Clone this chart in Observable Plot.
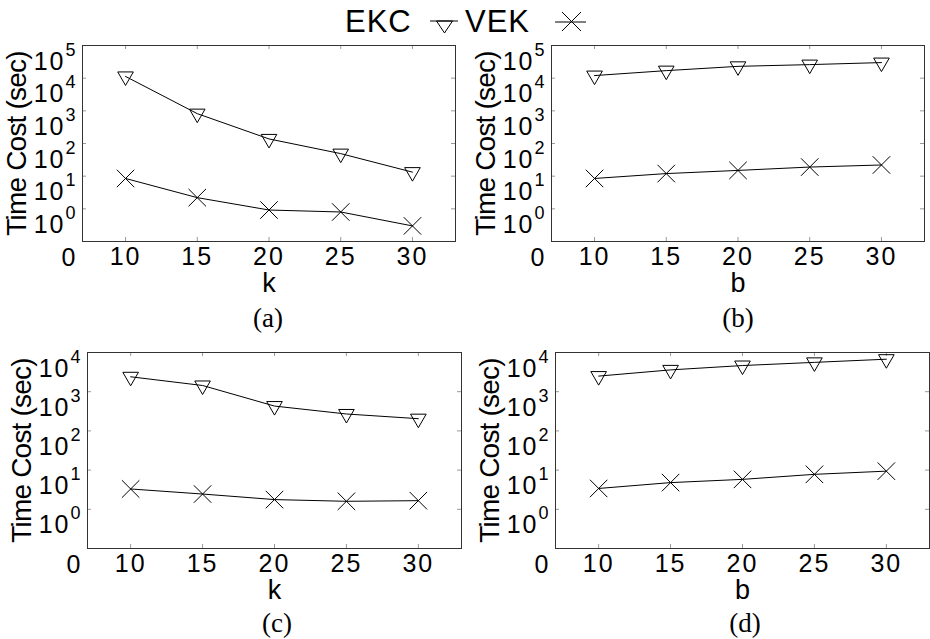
<!DOCTYPE html>
<html><head><meta charset="utf-8">
<script src="https://cdn.jsdelivr.net/npm/d3@7"></script>
<script src="https://cdn.jsdelivr.net/npm/@observablehq/plot@0.6"></script>
<style>
body{margin:0;background:#fff;}
#root{position:relative;width:930px;height:639px;overflow:hidden;background:#fff;font-family:"Liberation Sans",Arial,sans-serif;}
.panel{position:absolute;}
.panel g[aria-label="x-axis tick label"] text,
.panel g[aria-label="y-axis tick label"] text{letter-spacing:2px;}
.panel g[aria-label="y-axis label"] text{letter-spacing:-0.8px;}
.cap{position:absolute;font-family:"Liberation Serif","Times New Roman",serif;font-size:27px;line-height:1;transform:translate(-50%,-50%);white-space:nowrap;color:#000;}
#legend{position:absolute;left:0;top:0;}
</style></head><body><div id="root"></div>
<script>
// ---- data ----
const xValues = [10, 15, 20, 25, 30];
const ekcA = [11300, 820, 138, 49, 13.3];
const vekA = [8.5, 2.2, 0.92, 0.80, 0.30];
const ekcB = [12000, 17000, 23000, 26000, 30000];
const vekB = [8.5, 12, 15, 19, 22];
const ekcC = [2400, 1440, 430, 270, 205];
const vekC = [3.3, 2.45, 1.77, 1.6, 1.66];
const ekcD = [2500, 3600, 4650, 5600, 6750];
const vekD = [3.4, 4.8, 5.8, 7.8, 9.4];
const xTicks = [10, 15, 20, 25, 30];
const yTicksAB = [0.1, 1, 10, 100, 1e3, 1e4, 1e5];
const yTicksCD = [0.1, 1, 10, 100, 1e3, 1e4];
const seriesNames = ["EKC", "VEK"];
const panelLabels = ["(a)", "(b)", "(c)", "(d)"];
const xLabels = ["k", "b", "k", "b"];
const yLabel = "Time Cost (sec)";

const root = document.getElementById("root");
const FONT = '"Liberation Sans", Arial, sans-serif';

function makePanel({ekc, vek, yTicks, xLabel, left, top, width, height, ml, mr, mt, mb}) {
  const data = [
    ...xValues.map((x, i) => ({x, y: ekc[i], s: seriesNames[0]})),
    ...xValues.map((x, i) => ({x, y: vek[i], s: seriesNames[1]}))
  ];
  const fw = width - ml - mr, fh = height - mt - mb;
  const inner = yTicks.slice(1, -1);
  const chart = Plot.plot({
    width, height, marginLeft: ml, marginRight: mr, marginTop: mt, marginBottom: mb,
    style: {fontFamily: FONT, fontSize: "25px", color: "#000", background: "transparent", overflow: "visible"},
    x: {domain: [7, 33]},
    y: {type: "log", domain: [yTicks[0], yTicks[yTicks.length - 1]]},
    marks: [
      Plot.ruleY(inner, {stroke: "#999", insetRight: fw - 4}),
      Plot.ruleY(inner, {stroke: "#999", insetLeft: fw - 4}),
      Plot.ruleX(xTicks, {stroke: "#999", insetTop: fh - 4}),
      Plot.ruleX(xTicks, {stroke: "#999", insetBottom: fh - 4}),
      Plot.frame({stroke: "#333", strokeWidth: 1}),
      Plot.axisX({ticks: xTicks, tickSize: 0, tickPadding: 6, tickFormat: d => String(d), label: null}),
      Plot.axisX({ticks: [], tickSize: 0, label: xLabel, labelAnchor: "center", labelOffset: 50,
        labelArrow: "none", fontSize: 27}),
      Plot.axisY({ticks: yTicks, tickSize: 0, tickPadding: 5, dy: 16,
        tickFormat: d => d === yTicks[0] ? "0" : "10^" + Math.round(Math.log10(d)), label: null}),
      Plot.axisY({ticks: [], tickSize: 0, label: yLabel, labelAnchor: "center", labelOffset: 76,
        labelArrow: "none", fontSize: 28}),
      Plot.line(data, {x: "x", y: "y", z: "s", stroke: "#000", strokeWidth: 1}),
      Plot.dot(data.filter(d => d.s === "EKC"), {x: "x", y: "y", symbol: "triangle", rotate: 180, r: 5.8,
        stroke: "#000", fill: "none", strokeWidth: 1}),
      Plot.dot(data.filter(d => d.s === "VEK"), {x: "x", y: "y", symbol: "times", r: 8,
        stroke: "#000", strokeWidth: 1})
    ]
  });
  // superscript exponents on y tick labels
  chart.querySelectorAll('g[aria-label="y-axis tick label"] text').forEach(t => {
    const s = t.textContent;
    if (s.startsWith("10^")) {
      const e = s.slice(3);
      t.textContent = "10";
      const ts = document.createElementNS("http://www.w3.org/2000/svg", "tspan");
      ts.setAttribute("font-size", "18");
      ts.setAttribute("dy", "-14");
      ts.textContent = e;
      t.appendChild(ts);
    }
  });
  chart.classList.add("panel");
  chart.style.left = left + "px";
  chart.style.top = top + "px";
  root.appendChild(chart);
}

makePanel({ekc: ekcA, vek: vekA, yTicks: yTicksAB, xLabel: xLabels[0], left: 0, top: 0, width: 465, height: 300, ml: 82, mr: 10, mt: 45, mb: 59});
makePanel({ekc: ekcB, vek: vekB, yTicks: yTicksAB, xLabel: xLabels[1], left: 465, top: 0, width: 465, height: 300, ml: 86, mr: 6, mt: 45, mb: 59});
makePanel({ekc: ekcC, vek: vekC, yTicks: yTicksCD, xLabel: xLabels[2], left: 0, top: 300, width: 465, height: 339, ml: 87, mr: 4, mt: 52, mb: 91});
makePanel({ekc: ekcD, vek: vekD, yTicks: yTicksCD, xLabel: xLabels[3], left: 465, top: 300, width: 465, height: 339, ml: 90, mr: 1, mt: 52, mb: 91});

// captions
const capPos = [[268, 318], [738, 318], [277, 623], [745, 623]];
panelLabels.forEach((t, i) => {
  const d = document.createElement("div");
  d.className = "cap";
  d.textContent = t;
  d.style.left = capPos[i][0] + "px";
  d.style.top = capPos[i][1] + "px";
  root.appendChild(d);
});

// legend
const NS = "http://www.w3.org/2000/svg";
const lg = document.createElementNS(NS, "svg");
lg.setAttribute("id", "legend");
lg.setAttribute("width", "930");
lg.setAttribute("height", "42");
lg.innerHTML = `
  <g font-family='${FONT}' font-size="31" fill="#000">
    <text x="345" y="32" letter-spacing="1">${seriesNames[0]}</text>
    <text x="465" y="32" letter-spacing="1">${seriesNames[1]}</text>
  </g>
  <g stroke="#000" stroke-width="1" fill="none">
    <line x1="430" y1="21" x2="458" y2="21"/>
    <path d="M436.5,21 L452.5,21 L444.5,33 Z"/>
    <line x1="555" y1="22" x2="586" y2="22"/>
    <line x1="562" y1="12" x2="581" y2="31"/>
    <line x1="562" y1="31" x2="581" y2="12"/>
  </g>`;
root.appendChild(lg);
</script>
</body></html>
